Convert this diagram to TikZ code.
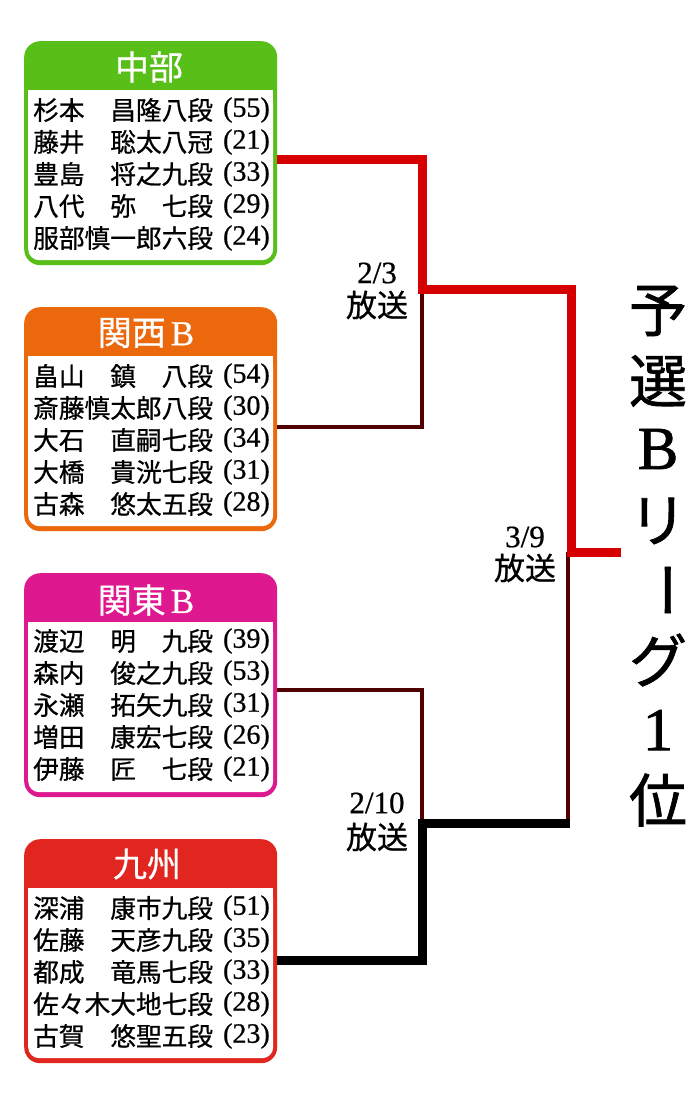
\documentclass[tikz,border=0pt]{standalone}
\usepackage{fontspec}
\setmainfont{Liberation Serif}
\newfontfamily\cjk[FakeBold=0.7]{Noto Sans CJK JP}
\newfontfamily\cjkh[FakeBold=1.2]{Noto Sans CJK JP}
\newfontfamily\numf[FakeBold=0.6]{Liberation Serif}
\newfontfamily\numh[FakeBold=1.2]{Liberation Serif}
\definecolor{cgreen}{RGB}{88,190,24}
\definecolor{corange}{RGB}{236,104,12}
\definecolor{cmagenta}{RGB}{222,24,142}
\definecolor{cred}{RGB}{224,38,30}
\definecolor{wred}{RGB}{214,0,0}
\definecolor{dred}{RGB}{80,0,0}
\newcommand\teamrow[4]{%
  \node[namecell] (#1n) at (33,#2) {#3};
  \node[agecell] (#1a) at (270,#2) {#4};}
\begin{document}
\begin{tikzpicture}[x=1pt,y=-1pt,
  teambox/.style={rounded corners=16pt, minimum width=253pt, minimum height=224pt, anchor=north west, inner sep=0pt, draw=none},
  innerbox/.style={fill=white, rounded corners=11pt, minimum width=245pt, minimum height=170pt, anchor=north west, inner sep=0pt, draw=none},
  hdr/.style={text=white, font=\cjk\fontsize{34}{34}\selectfont, inner sep=0pt},
  namecell/.style={anchor=west, inner sep=0pt, font=\cjk\fontsize{25.7}{26}\selectfont},
  agecell/.style={anchor=east, inner sep=0pt, font=\numf\fontsize{28}{28}\selectfont},
  datelbl/.style={inner sep=0pt, align=center},
  winline/.style={line width=9pt, line join=miter, line cap=butt},
  loseline/.style={line width=3.5pt, color=dred, line join=miter},
  titlecjk/.style={inner sep=0pt, font=\cjkh\fontsize{58}{58}\selectfont},
  titlerm/.style={inner sep=0pt, font=\numh\fontsize{61}{61}\selectfont}
]
\useasboundingbox (0,0) rectangle (700,1100);
\fill[white] (0,0) rectangle (700,1100);

% ---------- boxes ----------
\node[teambox, fill=cgreen] (b1) at (24,41) {};
\node[innerbox] (i1) at (28,90) {};
\fill[white] (28,90) rectangle (273,120);
\node[hdr] (h1) at (149,67) {中部};
\teamrow{a1}{110}{杉本　昌隆八段}{(55)}
\teamrow{a2}{142}{藤井　聡太八冠}{(21)}
\teamrow{a3}{174}{豊島　将之九段}{(33)}
\teamrow{a4}{206}{八代　弥　七段}{(29)}
\teamrow{a5}{238}{服部慎一郎六段}{(24)}

\node[teambox, fill=corange] (b2) at (24,307) {};
\node[innerbox] (i2) at (28,356) {};
\fill[white] (28,356) rectangle (273,386);
\node[hdr] (h2) at (146,333) {関西\hspace{5pt}{\numf\fontsize{35}{35}\selectfont B}};
\teamrow{c1}{376}{畠山　鎮　八段}{(54)}
\teamrow{c2}{408}{斎藤慎太郎八段}{(30)}
\teamrow{c3}{440}{大石　直嗣七段}{(34)}
\teamrow{c4}{472}{大橋　貴洸七段}{(31)}
\teamrow{c5}{504}{古森　悠太五段}{(28)}

\node[teambox, fill=cmagenta] (b3) at (24,573) {};
\node[innerbox] (i3) at (28,622) {};
\fill[white] (28,622) rectangle (273,652);
\node[hdr] (h3) at (146,600) {関東\hspace{5pt}{\numf\fontsize{35}{35}\selectfont B}};
\teamrow{e1}{641}{渡辺　明　九段}{(39)}
\teamrow{e2}{673}{森内　俊之九段}{(53)}
\teamrow{e3}{705}{永瀬　拓矢九段}{(31)}
\teamrow{e4}{737}{増田　康宏七段}{(26)}
\teamrow{e5}{769}{伊藤　匠　七段}{(21)}

\node[teambox, fill=cred] (b4) at (24,839) {};
\node[innerbox] (i4) at (28,888) {};
\fill[white] (28,888) rectangle (273,918);
\node[hdr] (h4) at (147,864) {九州};
\teamrow{k1}{908}{深浦　康市九段}{(51)}
\teamrow{k2}{940}{佐藤　天彦九段}{(35)}
\teamrow{k3}{972}{都成　竜馬七段}{(33)}
\teamrow{k4}{1004}{佐々木大地七段}{(28)}
\teamrow{k5}{1036}{古賀　悠聖五段}{(23)}

% ---------- bracket ----------
\coordinate (s1) at (b1.east |- 0,159);
\coordinate (s2) at (b2.east |- 0,427);
\coordinate (s3) at (b3.east |- 0,690);
\coordinate (s4) at (b4.east |- 0,960);
\coordinate (m1) at (422,289);
\coordinate (m2) at (422,823);
\coordinate (fin) at (571,552);
\coordinate (fine) at (621,552);

\draw[loseline] (s2) -| (m1);
\draw[loseline] (s3) -| (m2);
\draw[loseline] (568,823) -- (568,552);
\draw[winline, color=wred] (s1) -| (m1) -| (fin) -- (fine);
\draw[winline, color=black] (s4) -| (m2) -- (570,823);

% ---------- labels ----------
\node[datelbl, font=\numf\fontsize{31}{31}\selectfont] (d1) at (377,273) {2/3};
\node[datelbl, font=\cjk\fontsize{31}{31}\selectfont] (d1b) at (377,305) {放送};
\node[datelbl, font=\numf\fontsize{31}{31}\selectfont] (d2) at (525,537) {3/9};
\node[datelbl, font=\cjk\fontsize{31}{31}\selectfont] (d2b) at (525,568) {放送};
\node[datelbl, font=\numf\fontsize{31}{31}\selectfont] (d3) at (377,803) {2/10};
\node[datelbl, font=\cjk\fontsize{31}{31}\selectfont] (d3b) at (377,837) {放送};

% ---------- title ----------
\node[titlecjk] (t1) at (658,311) {予};
\node[titlecjk] (t2) at (658,381) {選};
\node[titlerm] (t3) at (658,449) {B};
\node[titlecjk] (t4) at (658,521) {リ};
\node[titlecjk, rotate=-90] (t5) at (658,590) {ー};
\node[titlecjk] (t6) at (658,660) {グ};
\node[titlerm] (t7) at (658,730) {1};
\node[titlecjk] (t8) at (658,800) {位};
\end{tikzpicture}
\end{document}
